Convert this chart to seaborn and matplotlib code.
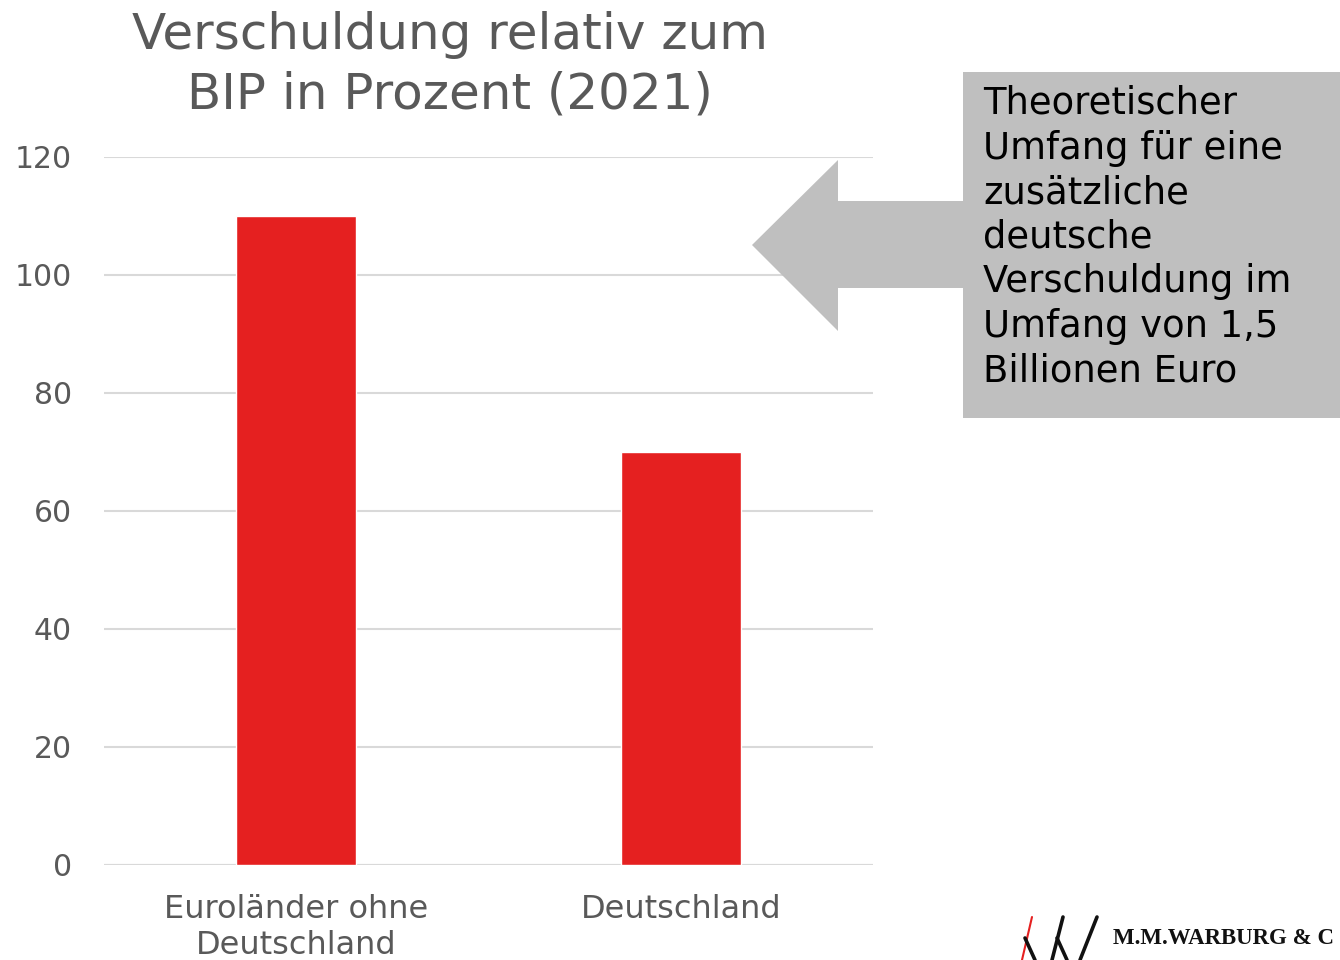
import matplotlib
matplotlib.use("Agg")
import matplotlib.pyplot as plt
import seaborn as sns
import pandas as pd
from matplotlib.patches import Polygon, Rectangle
from matplotlib.lines import Line2D

categories = ["Euroländer ohne\nDeutschland", "Deutschland"]
values = [110, 70]
yticks = [0, 20, 40, 60, 80, 100, 120]
title = "Verschuldung relativ zum\nBIP in Prozent (2021)"
box_text = ("Theoretischer\nUmfang für eine\nzusätzliche\ndeutsche\n"
            "Verschuldung im\nUmfang von 1,5\nBillionen Euro")

sns.set_theme(style="white")
plt.rcParams['font.family'] = ['DejaVu Sans']

W, H = 1340, 960
fig = plt.figure(figsize=(13.4, 9.6), dpi=100)
ax = fig.add_axes([104 / W, 1 - 865 / H, (873 - 104) / W, (865 - 157) / H])

df = pd.DataFrame({"cat": categories, "val": values})
sns.barplot(data=df, x="cat", y="val", hue="cat", palette=["#e52020", "#e52020"],
            width=0.312, legend=False, ax=ax, saturation=1)

ax.set_xlim(-0.5, 1.5)
ax.set_ylim(0, 120)
ax.set_yticks(yticks)
ax.yaxis.grid(True, color="#d9d9d9", linewidth=1.5)
ax.set_axisbelow(True)
for s in ax.spines.values():
    s.set_visible(False)
ax.tick_params(axis="y", length=0, labelsize=21.5, colors="#595959", pad=23)
ax.tick_params(axis="x", length=0, labelsize=23, colors="#595959", pad=21)
for lab in ax.get_xticklabels():
    lab.set_linespacing(1.22)
ax.set_xlabel("")
ax.set_ylabel("")
ax.axhline(0, color="#d9d9d9", linewidth=1.5, zorder=0)

fig.text(450 / W, 1 - 65 / H, title, ha="center", va="center", fontsize=36,
         color="#595959", linespacing=1.3)

def px(x, y):
    return (x / W, 1 - y / H)

arrow = Polygon([px(752, 245), px(838, 160), px(838, 201), px(965, 201),
                 px(965, 288), px(838, 288), px(838, 331)],
                closed=True, facecolor="#bfbfbf", edgecolor="none",
                transform=fig.transFigure)
fig.add_artist(arrow)
box = Rectangle(px(963, 418), (1340 - 963) / W, (418 - 72) / H,
                facecolor="#bfbfbf", edgecolor="none", transform=fig.transFigure)
fig.add_artist(box)
fig.text(983 / W, 1 - 85 / H, box_text, ha="left", va="top", fontsize=26.6,
         color="black", linespacing=1.26)

# logo
fig.add_artist(Line2D([1032 / W, 1022 / W], [1 - 917 / H, 1 - 960 / H],
                      color="#e52020", lw=1.5, transform=fig.transFigure))
for (x0, y0, x1, y1) in [(1025, 938, 1035, 960), (1063, 917, 1052, 960),
                         (1057, 938, 1067, 960), (1097, 917, 1080, 960)]:
    fig.add_artist(Line2D([x0 / W, x1 / W], [1 - y0 / H, 1 - y1 / H],
                          color="#111111", lw=2.6, transform=fig.transFigure))
fig.text(1113 / W, 1 - 938 / H, "M.M.WARBURG & C", ha="left", va="center",
         fontsize=16.5, family="Liberation Serif", fontweight="bold",
         color="#111111")

fig.savefig("out.png", dpi=100)
